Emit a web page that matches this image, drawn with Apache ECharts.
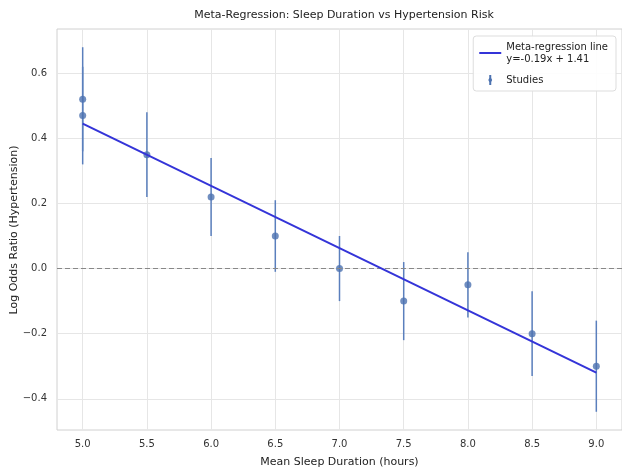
<!DOCTYPE html>
<html>
<head>
<meta charset="utf-8">
<script src="https://cdn.jsdelivr.net/npm/echarts@6/dist/echarts.min.js"></script>
<style>
  html, body { margin: 0; padding: 0; background: #fff; }
  #chart { width: 622px; height: 468px; }
</style>
</head>
<body>
<div id="chart"></div>
<script>
// study-level data
const sleepHours = [5.0, 5.0, 5.5, 6.0, 6.5, 7.0, 7.5, 8.0, 8.5, 9.0]
const logOdds    = [0.52, 0.47, 0.35, 0.22, 0.10, 0.00, -0.10, -0.05, -0.20, -0.30]
const ciLow      = [0.36, 0.32, 0.22, 0.10, -0.01, -0.10, -0.22, -0.15, -0.33, -0.44]
const ciHigh     = [0.68, 0.62, 0.48, 0.34, 0.21, 0.10, 0.02, 0.05, -0.07, -0.16]

// fitted line end points
const fitX = [5.0, 9.0]
const fitY = [0.445, -0.32]

const xTicks = [5.0, 5.5, 6.0, 6.5, 7.0, 7.5, 8.0, 8.5, 9.0]
const yTicks = [-0.4, -0.2, 0.0, 0.2, 0.4, 0.6]

const FONT = 'DejaVu Sans'
const fitName = 'Meta-regression line\ny=-0.19x + 1.41'
const studyName = 'Studies'

const chart = echarts.init(document.getElementById('chart'), null, { renderer: 'canvas' })

const fmtTick = v => (v < 0 ? '\u2212' : '') + Math.abs(v).toFixed(1)

chart.setOption({
  animation: false,
  backgroundColor: '#fff',
  textStyle: { fontFamily: FONT },
  title: {
    text: 'Meta-Regression: Sleep Duration vs Hypertension Risk',
    left: 339, top: 5, textAlign: 'center',
    textStyle: { fontFamily: FONT, fontSize: 11, fontWeight: 'normal', color: '#222' },
  },
  // y axis title, placed by hand because the axis name keeps clear of the labels
  graphic: [{
    type: 'text', x: 14, y: 230, rotation: Math.PI / 2,
    style: {
      text: 'Log Odds Ratio (Hypertension)', fontFamily: FONT, fontSize: 11, fill: '#222',
      align: 'center', verticalAlign: 'middle',
    },
  }],
  grid: {
    left: 57, right: 0, top: 29, bottom: 38, outerBoundsMode: 'none', containLabel: false,
    show: true, borderColor: '#d0d0d0', borderWidth: 1,
  },
  legend: {
    right: 6, top: 36, orient: 'vertical', itemGap: 9, itemWidth: 22, itemHeight: 10,
    backgroundColor: 'rgba(255,255,255,0.9)', borderColor: '#ddd', borderWidth: 1, borderRadius: 3,
    padding: [5, 8, 5, 6],
    textStyle: { fontFamily: FONT, fontSize: 10, color: '#222', lineHeight: 12 },
    data: [
      { name: fitName, icon: 'path://M0,4 L22,4 L22,6 L0,6 Z' },
      { name: studyName, icon: 'path://M10,0 L12,0 L12,3 A3,3 0 0 1 12,7 L12,10 L10,10 L10,7 A3,3 0 0 1 10,3 Z' },
    ],
  },
  xAxis: {
    type: 'value', min: 4.8, max: 9.2,
    name: 'Mean Sleep Duration (hours)', nameLocation: 'middle', nameGap: 27,
    nameTextStyle: { fontFamily: FONT, fontSize: 11, color: '#222' },
    axisLine: { show: false }, axisTick: { show: false, customValues: xTicks },
    axisLabel: { customValues: xTicks, formatter: v => v.toFixed(1), color: '#333', fontSize: 10, margin: 9 },
    splitLine: { show: true, lineStyle: { color: '#e6e6e6', width: 1 } },
  },
  yAxis: {
    type: 'value', min: -0.496, max: 0.736,
    axisLine: { show: false }, axisTick: { show: false, customValues: yTicks },
    axisLabel: { customValues: yTicks, formatter: fmtTick, color: '#333', fontSize: 10, margin: 10 },
    splitLine: { show: true, lineStyle: { color: '#e6e6e6', width: 1 } },
  },
  series: [
    {
      name: studyName, type: 'custom', z: 3,
      itemStyle: { color: '#4c72b0' },
      data: sleepHours.map((x, i) => [x, ciLow[i], ciHigh[i]]),
      renderItem: (params, api) => {
        const lo = api.coord([api.value(0), api.value(1)])
        const hi = api.coord([api.value(0), api.value(2)])
        return {
          type: 'line',
          shape: { x1: lo[0], y1: lo[1], x2: hi[0], y2: hi[1] },
          style: { stroke: '#5a7fbd', lineWidth: 1.5 },
        }
      },
    },
    {
      name: studyName, type: 'scatter', z: 4, symbolSize: 7,
      itemStyle: { color: '#4c72b0' },
      data: sleepHours.map((x, i) => [x, logOdds[i]]),
    },
    {
      name: fitName, type: 'line', z: 5, symbol: 'none',
      lineStyle: { color: '#3434d8', width: 2 },
      itemStyle: { color: '#3434d8' },
      data: fitX.map((x, i) => [x, fitY[i]]),
      markLine: {
        silent: true, symbol: 'none', label: { show: false },
        lineStyle: { color: '#888', type: [5, 3], width: 1.2 },
        data: [{ yAxis: 0 }],
      },
    },
  ],
})
</script>
</body>
</html>
